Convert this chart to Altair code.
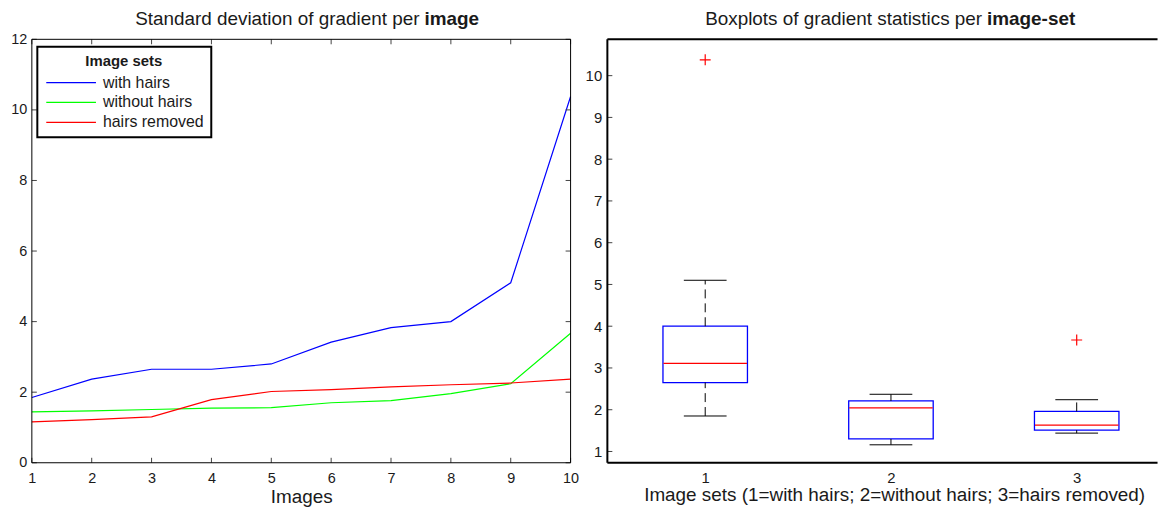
import altair as alt
import pandas as pd
import numpy as np

# ---------------- data ----------------
images = list(range(1, 11))
with_hairs = [1.85, 2.37, 2.65, 2.65, 2.80, 3.42, 3.83, 4.00, 5.10, 10.38]
without_hairs = [1.44, 1.47, 1.51, 1.55, 1.56, 1.70, 1.76, 1.96, 2.24, 3.67]
hairs_removed = [1.16, 1.22, 1.30, 1.79, 2.02, 2.07, 2.15, 2.21, 2.26, 2.37]
series_names = ["with hairs", "without hairs", "hairs removed"]
series_colors = ["#0000ff", "#00ff00", "#ff0000"]

box_sets = [1, 2, 3]
box_sources = [with_hairs, hairs_removed, without_hairs]  # as drawn in the reference

left_xticks = images
left_yticks = [0, 2, 4, 6, 8, 10, 12]
right_yticks = list(range(1, 11))

left_title = "Standard deviation of gradient per"
left_title_bold = "image"
right_title = "Boxplots of gradient statistics per"
right_title_bold = "image-set"
left_xlabel = "Images"
right_xlabel = "Image sets (1=with hairs; 2=without hairs; 3=hairs removed)"

# ---------------- tables ----------------
rows = []
for name, vals in zip(series_names, [with_hairs, without_hairs, hairs_removed]):
    for i, v in zip(images, vals):
        rows.append({"image": i, "value": v, "series": name})
df_lines = pd.DataFrame(rows)


def box_stats(vals):
    v = np.sort(np.asarray(vals, dtype=float))
    q1, med, q3 = np.percentile(v, [25, 50, 75], method="hazen")
    iqr = q3 - q1
    lo_lim, hi_lim = q1 - 1.5 * iqr, q3 + 1.5 * iqr
    inside = v[(v >= lo_lim) & (v <= hi_lim)]
    outl = v[(v < lo_lim) | (v > hi_lim)]
    return q1, med, q3, inside.min(), inside.max(), outl


box_rows, out_rows = [], []
for s, vals in zip(box_sets, box_sources):
    q1, med, q3, lo, hi, outl = box_stats(vals)
    box_rows.append({"set": s, "q1": q1, "med": med, "q3": q3, "lo": lo, "hi": hi})
    for o in outl:
        out_rows.append({"set": s, "value": o})
df_box = pd.DataFrame(box_rows)
df_out = pd.DataFrame(out_rows)

FONT = "Liberation Sans"
TXT = "#1a1a1a"
TICK = "#444444"
W1, H = 542, 426
W2 = 555

one = pd.DataFrame({"a": [0]})

# ---------------- left panel ----------------
lx = alt.Scale(domain=[1, 10], nice=False, zero=False)
ly = alt.Scale(domain=[0, 12], nice=False, zero=False)
lx_axis = alt.Axis(
    orient="bottom", values=left_xticks, format="d", title=left_xlabel, ticks=False, tickSize=0,
    labelPadding=9, labelFontSize=14.5, labelColor=TXT, labelFlush=False, labelOverlap=False,
    domain=False, grid=False,
    titleFontSize=19, titleFontWeight="normal", titleColor=TXT,
    titleX=W1 / 2, titleY=40, titleBaseline="alphabetic", titleAlign="center")
ly_axis = alt.Axis(
    orient="left", values=left_yticks, title="", ticks=False, tickSize=0, labelPadding=5,
    labelFontSize=14.5, labelColor=TXT, labelFlush=False, labelOverlap=False,
    domain=False, grid=False)

lines = alt.Chart(df_lines).mark_line(strokeWidth=1.2).encode(
    x=alt.X("image:Q", scale=lx, axis=lx_axis),
    y=alt.Y("value:Q", scale=ly, axis=ly_axis),
    color=alt.Color("series:N", scale=alt.Scale(domain=series_names, range=series_colors),
                    legend=alt.Legend(
                        title="Image sets", orient="none", legendX=5.5, legendY=7.5,
                        direction="vertical", symbolType="M-5,0H5", symbolSize=100,
                        symbolStrokeWidth=1.2, symbolOffset=19, labelOffset=24,
                        labelFontSize=16, labelColor=TXT,
                        titleFontSize=15, titleFontWeight="bold", titleColor=TXT,
                        titleAnchor="middle", padding=7, rowPadding=4,
                        titlePadding=6, strokeColor="#000", fillColor="#ffffff")),
)

lxt = pd.DataFrame({"t": left_xticks})
lyt = pd.DataFrame({"t": left_yticks})
tick_b = alt.Chart(lxt).mark_rule(color=TICK, strokeWidth=1).encode(
    x=alt.X("t:Q", scale=lx, axis=lx_axis), y=alt.value(H), y2=alt.value(H - 5))
tick_t = alt.Chart(lxt).mark_rule(color=TICK, strokeWidth=1).encode(
    x=alt.X("t:Q", scale=lx, axis=lx_axis), y=alt.value(0), y2=alt.value(5))
tick_l = alt.Chart(lyt).mark_rule(color=TICK, strokeWidth=1).encode(
    y=alt.Y("t:Q", scale=ly, axis=ly_axis), x=alt.value(0), x2=alt.value(5))
tick_r = alt.Chart(lyt).mark_rule(color=TICK, strokeWidth=1).encode(
    y=alt.Y("t:Q", scale=ly, axis=ly_axis), x=alt.value(W1 - 5), x2=alt.value(W1))
border_l = alt.Chart(one).mark_rect(fillOpacity=0, stroke="#000", strokeWidth=1).encode(
    x=alt.value(0), x2=alt.value(W1), y=alt.value(0), y2=alt.value(H))

ltitle = pd.DataFrame({"a": [left_title], "b": [left_title_bold]})
lt1 = alt.Chart(ltitle).mark_text(align="right", baseline="alphabetic", fontSize=19,
                                  font=FONT, color=TXT).encode(
    text="a:N", x=alt.value(390), y=alt.value(-14.5))
lt2 = alt.Chart(ltitle).mark_text(align="left", baseline="alphabetic", fontSize=19,
                                  font=FONT, fontWeight="bold", color=TXT).encode(
    text="b:N", x=alt.value(395), y=alt.value(-14.5))

left = alt.layer(lines, tick_b, tick_t, tick_l, tick_r, border_l,
                 lt1, lt2).properties(width=W1, height=H)

# ---------------- right panel ----------------
rx = alt.Scale(domain=[0.5, 0.5 + W2 / 190.3], nice=False, zero=False)
ry = alt.Scale(domain=[0.73, 10.87], nice=False, zero=False)
rx_axis = alt.Axis(
    orient="bottom", values=box_sets, format="d", title=right_xlabel, ticks=False, tickSize=0,
    labelPadding=8, labelFontSize=15, labelColor=TXT, labelFlush=False, labelOverlap=False,
    domain=False, grid=False,
    titleFontSize=19, titleFontWeight="normal", titleColor=TXT,
    titleX=288.5, titleY=38, titleBaseline="alphabetic", titleAlign="center")
ry_axis = alt.Axis(
    orient="left", values=right_yticks, title="", ticks=False, tickSize=0, labelPadding=5.7,
    labelFontSize=15, labelColor=TXT, labelFlush=False, labelOverlap=False,
    domain=False, grid=False)

boxes = alt.Chart(df_box).mark_bar(size=85, fillOpacity=0, stroke="#0000ff",
                                   strokeWidth=1.3).encode(
    x=alt.X("set:Q", scale=rx, axis=rx_axis),
    y=alt.Y("q1:Q", scale=ry, axis=ry_axis),
    y2="q3:Q",
)
wh_hi = alt.Chart(df_box).mark_rule(color="#000", strokeWidth=1, strokeDash=[9, 5]).encode(
    x=alt.X("set:Q", scale=rx, axis=rx_axis), y=alt.Y("q3:Q", scale=ry, axis=ry_axis), y2="hi:Q")
wh_lo = alt.Chart(df_box).mark_rule(color="#000", strokeWidth=1, strokeDash=[9, 5]).encode(
    x=alt.X("set:Q", scale=rx, axis=rx_axis), y=alt.Y("lo:Q", scale=ry, axis=ry_axis), y2="q1:Q")
cap_hi = alt.Chart(df_box).mark_point(shape="M-1,0H1", size=43 * 43, filled=False,
                                      stroke="#000", strokeWidth=1, opacity=1).encode(
    x=alt.X("set:Q", scale=rx, axis=rx_axis), y=alt.Y("hi:Q", scale=ry, axis=ry_axis))
cap_lo = alt.Chart(df_box).mark_point(shape="M-1,0H1", size=43 * 43, filled=False,
                                      stroke="#000", strokeWidth=1, opacity=1).encode(
    x=alt.X("set:Q", scale=rx, axis=rx_axis), y=alt.Y("lo:Q", scale=ry, axis=ry_axis))
medians = alt.Chart(df_box).mark_point(shape="M-1,0H1", size=84 * 84, filled=False,
                                       stroke="#ff0000", strokeWidth=1.2, opacity=1).encode(
    x=alt.X("set:Q", scale=rx, axis=rx_axis), y=alt.Y("med:Q", scale=ry, axis=ry_axis))
outliers = alt.Chart(df_out).mark_point(shape="M-1,0H1M0,-1V1", size=121, filled=False,
                                        stroke="#ff0000", strokeWidth=1.2, opacity=1).encode(
    x=alt.X("set:Q", scale=rx, axis=rx_axis), y=alt.Y("value:Q", scale=ry, axis=ry_axis))

ryt = pd.DataFrame({"t": right_yticks})
tick_rl = alt.Chart(ryt).mark_rule(color=TICK, strokeWidth=1).encode(
    y=alt.Y("t:Q", scale=ry, axis=ry_axis), x=alt.value(0), x2=alt.value(5))
border_top_r = alt.Chart(one).mark_rule(color="#000", strokeWidth=2).encode(
    x=alt.value(0), x2=alt.value(W2), y=alt.value(0))
border_bot_r = alt.Chart(one).mark_rule(color="#000", strokeWidth=2).encode(
    x=alt.value(0), x2=alt.value(W2), y=alt.value(H))
border_left_r = alt.Chart(one).mark_rule(color="#000", strokeWidth=2).encode(
    x=alt.value(0), y=alt.value(0), y2=alt.value(H))
# the panel is cut off at the right in the reference: no right-hand frame line
cover_right = alt.Chart(one).mark_rule(color="#ffffff", strokeWidth=5).encode(
    x=alt.value(W2 + 1), y=alt.value(-2), y2=alt.value(H + 2))

rtitle = pd.DataFrame({"a": [right_title], "b": [right_title_bold]})
rt1 = alt.Chart(rtitle).mark_text(align="right", baseline="alphabetic", fontSize=19,
                                  font=FONT, color=TXT).encode(
    text="a:N", x=alt.value(377), y=alt.value(-14.5))
rt2 = alt.Chart(rtitle).mark_text(align="left", baseline="alphabetic", fontSize=19,
                                  font=FONT, fontWeight="bold", color=TXT).encode(
    text="b:N", x=alt.value(382), y=alt.value(-14.5))

right = alt.layer(boxes, wh_hi, wh_lo, cap_hi, cap_lo, medians, outliers, tick_rl,
                  border_top_r, border_bot_r, border_left_r, cover_right, rt1, rt2
                  ).properties(width=W2, height=H)

chart = alt.hconcat(left, right, spacing=5).properties(
    padding={"left": 2, "top": 0, "right": 0, "bottom": 0},
    background="#ffffff",
).configure(font=FONT).configure_view(stroke=None).configure_legend(strokeWidth=2)

chart.save("out.html", embed_options={"renderer": "svg", "actions": False})
